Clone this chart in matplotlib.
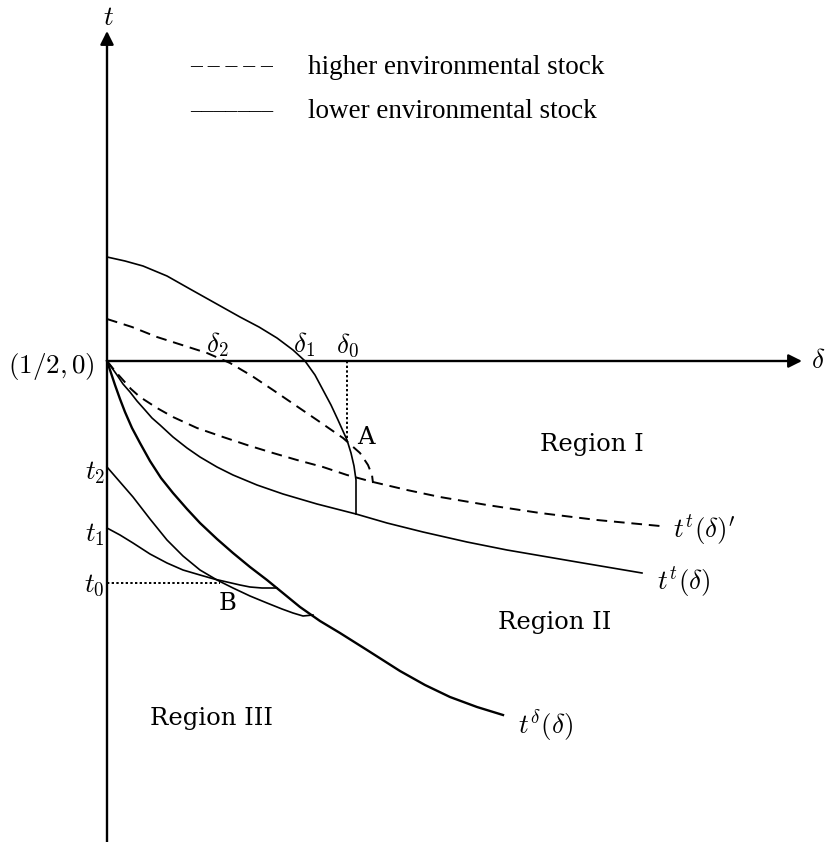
import matplotlib

matplotlib.use("Agg")

import matplotlib.pyplot as plt

plt.rcParams["mathtext.fontset"] = "cm"

# curve points, delta to the right of (1/2, 0), t upward
upper_solid_x = [0, 0.18, 0.36, 0.60, 0.83, 1.08, 1.33, 1.52, 1.70, 1.86, 1.98,
                 2.08, 2.16, 2.24, 2.31, 2.40, 2.44, 2.47, 2.49, 2.49]
upper_solid_y = [1.04, 1.00, 0.95, 0.85, 0.72, 0.58, 0.44, 0.34, 0.23, 0.11, 0.0,
                 -0.14, -0.29, -0.44, -0.59, -0.79, -0.92, -1.05, -1.19, -1.53]

upper_dash_x = [0, 0.25, 0.50, 0.75, 1.00, 1.23, 1.45, 1.66, 1.88, 2.10, 2.36, 2.53, 2.61, 2.65, 2.66]
upper_dash_y = [0.42, 0.34, 0.24, 0.16, 0.08, -0.02, -0.15, -0.29, -0.44, -0.59, -0.77, -0.92, -1.04, -1.14, -1.22]

tt_dash_x = [0, 0.08, 0.16, 0.24, 0.33, 0.50, 0.66, 0.90, 1.16, 1.40, 1.66, 1.90, 2.16,
             2.40, 2.66, 3.00, 3.33, 3.80, 4.33, 4.90, 5.53]
tt_dash_y = [0, -0.10, -0.19, -0.28, -0.36, -0.47, -0.56, -0.67, -0.76, -0.84, -0.92, -0.99, -1.06,
             -1.14, -1.21, -1.29, -1.36, -1.44, -1.52, -1.59, -1.65]

tt_x = [0, 0.05, 0.10, 0.16, 0.23, 0.30, 0.38, 0.45, 0.53, 0.66, 0.80, 0.93, 1.10, 1.26,
        1.50, 1.76, 2.10, 2.49, 2.80, 3.16, 3.60, 4.00, 4.70, 5.35]
tt_y = [0, -0.07, -0.14, -0.23, -0.31, -0.40, -0.49, -0.57, -0.64, -0.76, -0.87, -0.96, -1.06, -1.14,
        -1.24, -1.33, -1.43, -1.53, -1.62, -1.71, -1.81, -1.89, -2.01, -2.12]

td_x = [0, 0.04, 0.08, 0.13, 0.18, 0.25, 0.33, 0.43, 0.54, 0.66, 0.80, 0.93, 1.10, 1.26,
        1.43, 1.60, 1.93, 2.13, 2.33, 2.60, 2.93, 3.18, 3.43, 3.70, 3.96]
td_y = [0, -0.12, -0.24, -0.38, -0.51, -0.67, -0.82, -1.00, -1.17, -1.32, -1.48, -1.62, -1.78, -1.92,
        -2.06, -2.19, -2.46, -2.60, -2.72, -2.89, -3.10, -3.24, -3.36, -3.46, -3.54]

t2_x = [0, 0.13, 0.26, 0.43, 0.60, 0.76, 0.93, 1.10, 1.26, 1.43, 1.60, 1.75, 1.86, 1.96, 2.06]
t2_y = [-1.06, -1.21, -1.36, -1.58, -1.79, -1.95, -2.09, -2.19, -2.27, -2.35, -2.42, -2.48, -2.52, -2.55, -2.54]

t1_x = [0, 0.13, 0.26, 0.43, 0.60, 0.76, 0.93, 1.07, 1.20, 1.33, 1.43, 1.55, 1.70]
t1_y = [-1.67, -1.74, -1.82, -1.93, -2.02, -2.09, -2.14, -2.18, -2.21, -2.24, -2.26, -2.27, -2.27]

t0 = -2.22
b_x = 1.13
delta0 = 2.40
a_y = -0.79

fig = plt.figure(figsize=(8.32, 8.42), dpi=100)
ax = fig.add_axes([0, 0, 1, 1])
ax.set_xlim(-1.07, 7.25)
ax.set_ylim(-4.81, 3.61)
ax.axis("off")

arrow = dict(arrowstyle="-|>", lw=1.7, color="k", mutation_scale=20, shrinkA=0, shrinkB=0)
ax.annotate("", xy=(6.95, 0), xytext=(0, 0), arrowprops=arrow)
ax.annotate("", xy=(0, 3.30), xytext=(0, -4.81), arrowprops=arrow)

dash = (0, (5.5, 3.5))
ax.plot(upper_solid_x, upper_solid_y, color="k", lw=1.2)
ax.plot(upper_dash_x, upper_dash_y, color="k", lw=1.4, linestyle=dash)
ax.plot(tt_dash_x, tt_dash_y, color="k", lw=1.4, linestyle=dash)
ax.plot(tt_x, tt_y, color="k", lw=1.2)
ax.plot(td_x, td_y, color="k", lw=1.7)
ax.plot(t2_x, t2_y, color="k", lw=1.2)
ax.plot(t1_x, t1_y, color="k", lw=1.2)
ax.plot([0, b_x], [t0, t0], color="k", lw=1.4, linestyle=(0, (1.2, 1.2)))
ax.plot([delta0, delta0], [0, a_y], color="k", lw=1.4, linestyle=(0, (1.2, 1.2)))

math = dict(fontsize=19.5, color="k")
ax.text(7.11, 0, r"$\delta$", ha="center", va="center", **math)
ax.text(0.01, 3.43, r"$t$", ha="center", va="center", **math)
ax.text(-0.12, -0.05, r"$(1/2,0)$", ha="right", va="center", **math)
ax.text(-0.02, -1.12, r"$t_2$", ha="right", va="center", **math)
ax.text(-0.02, -1.74, r"$t_1$", ha="right", va="center", **math)
ax.text(-0.02, -2.24, r"$t_0$", ha="right", va="center", **math)
ax.text(1.10, 0.02, r"$\delta_2$", ha="center", va="bottom", **math)
ax.text(1.97, 0.02, r"$\delta_1$", ha="center", va="bottom", **math)
ax.text(2.40, 0.02, r"$\delta_0$", ha="center", va="bottom", **math)
ax.text(5.66, -1.69, r"$t^t(\delta)'$", ha="left", va="center", **math)
ax.text(5.50, -2.21, r"$t^t(\delta)$", ha="left", va="center", **math)
ax.text(4.11, -3.64, r"$t^\delta(\delta)$", ha="left", va="center", **math)

serif = dict(fontsize=17.5, family="DejaVu Serif", color="k")
ax.text(2.50, -0.77, "A", ha="left", va="center", **serif)
ax.text(1.21, -2.42, "B", ha="center", va="center", **serif)
ax.text(4.33, -0.84, "Region I", ha="left", va="center", **serif)
ax.text(3.91, -2.62, "Region II", ha="left", va="center", **serif)
ax.text(0.43, -3.57, "Region III", ha="left", va="center", **serif)

legend = dict(fontsize=19.5, family="Liberation Serif", color="k", va="center")
marks = dict(fontsize=17, family="Liberation Serif", color="k", va="center")
ax.text(0.83, 2.94, "\u2013 \u2013 \u2013 \u2013 \u2013", ha="left", **marks)
ax.text(2.01, 2.94, "higher environmental stock", ha="left", **legend)
ax.text(0.83, 2.49, "\u2013\u2013\u2013\u2013\u2013\u2013\u2013", ha="left", **marks)
ax.text(2.01, 2.49, "lower environmental stock", ha="left", **legend)

fig.savefig("out.png", dpi=100)
